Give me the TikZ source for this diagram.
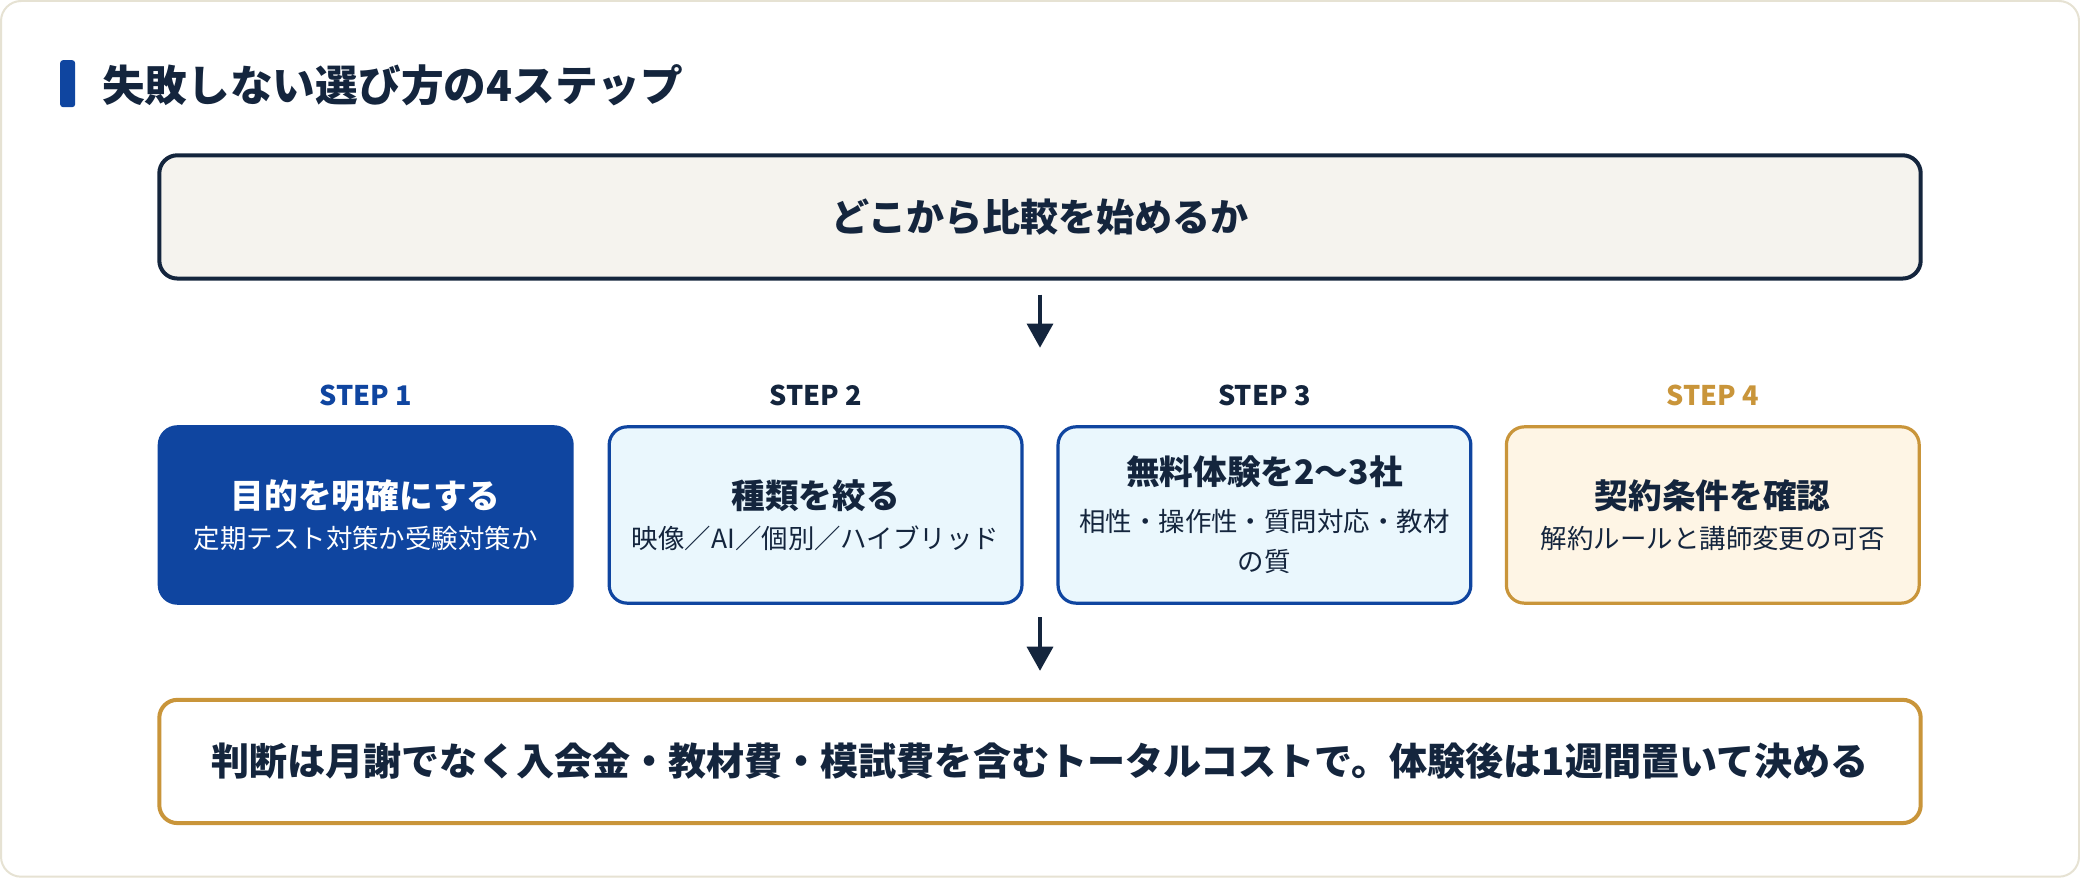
\documentclass[tikz,border=0pt]{standalone}
\usepackage{fontspec}
\setmainfont{Noto Sans CJK JP}
\usetikzlibrary{arrows.meta}
\definecolor{navy}{HTML}{14253D}
\definecolor{stepblue}{HTML}{0F45A0}
\definecolor{gold}{HTML}{C9953A}
\definecolor{paleblue}{HTML}{EAF7FD}
\definecolor{cream}{HTML}{FEF5E5}
\definecolor{sand}{HTML}{F5F3EE}
\definecolor{frame}{HTML}{E6E2D3}
\newcommand{\cardtitle}[1]{{\bfseries\fontsize{16.8}{20}\selectfont #1}}
\begin{document}
\begin{tikzpicture}[x=0.5pt, y=-0.5pt,
    wide/.style={rounded corners=9pt, line width=2pt, minimum width=879pt, minimum height=61.5pt, font=\bfseries\fontsize{19}{23}\selectfont, text=navy},
    card/.style={rounded corners=9pt, line width=1.6pt, minimum width=206pt, minimum height=88pt, align=center, text=navy, font=\fontsize{13.2}{20}\selectfont},
    steplabel/.style={font=\bfseries\fontsize{13.5}{16}\selectfont},
    down/.style={line width=1.6pt, navy, -{Triangle[width=13pt,length=12pt]}}]
    \draw[frame, line width=1pt, fill=white, rounded corners=10pt] (3,3) rectangle (2077,877);
    \fill[stepblue, rounded corners=1.5pt] (62,62) rectangle (77,109);
    \node[anchor=west, text=navy, font=\bfseries\fontsize{21.3}{26}\selectfont] (title) at (97,87) {失敗しない選び方の4ステップ};
    \node[wide, draw=navy, fill=sand] (start) at (1040,218.5) {どこから比較を始めるか};
    \node[steplabel, text=stepblue] (lab1) at (367,397) {STEP 1};
    \node[steplabel, text=navy] (lab2) at (816,397) {STEP 2};
    \node[steplabel, text=navy] (lab3) at (1264,397) {STEP 3};
    \node[steplabel, text=gold] (lab4) at (1711.5,397) {STEP 4};
    \node[card, draw=stepblue, fill=stepblue, text=white] (step1) at (367,516)
        {\cardtitle{目的を明確にする}\\定期テスト対策か受験対策か};
    \node[card, draw=stepblue, fill=paleblue] (step2) at (816,516)
        {\cardtitle{種類を絞る}\\映像／AI／個別／ハイブリッド};
    \node[card, draw=stepblue, fill=paleblue] (step3) at (1264,516)
        {\cardtitle{無料体験を2〜3社}\\[3.6pt]相性・操作性・質問対応・教材\\の質};
    \node[card, draw=gold, fill=cream] (step4) at (1711.5,516)
        {\cardtitle{契約条件を確認}\\解約ルールと講師変更の可否};
    \node[wide, draw=gold, fill=white] (goal) at (1040,762) {判断は月謝でなく入会金・教材費・模試費を含むトータルコストで。体験後は1週間置いて決める};
    \coordinate (mid1) at (1040,349);
    \coordinate (mid2) at (1040,618);
    \draw[down, shorten <=7pt] (start) -- (mid1);
    \draw[down, shorten >=13.5pt] (mid2) -- (goal);
\end{tikzpicture}
\end{document}
